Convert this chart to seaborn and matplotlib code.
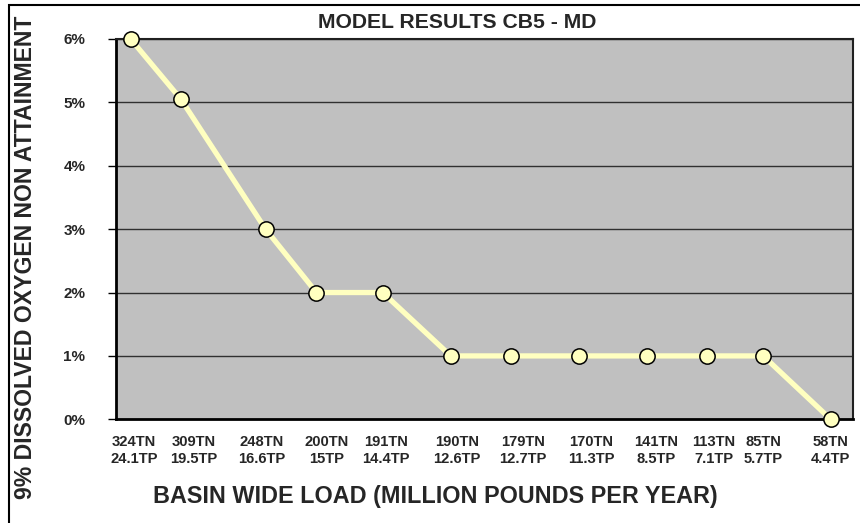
import pandas as pd
import matplotlib.pyplot as plt
import matplotlib.patches as patches
import seaborn as sns

# Load scenarios (total nitrogen / total phosphorus) and non-attainment results
load_labels = ["324TN\n24.1TP", "309TN\n19.5TP", "248TN\n16.6TP", "200TN\n15TP",
               "191TN\n14.4TP", "190TN\n12.6TP", "179TN\n12.7TP", "170TN\n11.3TP",
               "141TN\n8.5TP", "113TN\n7.1TP", "85TN\n5.7TP", "58TN\n4.4TP"]
label_pos = [0.05, 0.99, 2.06, 3.08, 4.01, 5.13, 6.16, 7.24, 8.25, 9.16, 9.94, 10.99]
point_pos = [0.0, 0.79, 2.12, 2.92, 3.96, 5.03, 5.98, 7.04, 8.12, 9.06, 9.94, 11.0]
non_attainment = [6.0, 5.05, 3.0, 2.0, 2.0, 1.0, 1.0, 1.0, 1.0, 1.0, 1.0, 0.0]
y_ticks = [0, 1, 2, 3, 4, 5, 6]

df = pd.DataFrame({"pos": point_pos, "pct": non_attainment})

sns.set_style("white")
plt.rcParams["font.family"] = ["Liberation Sans", "DejaVu Sans"]
plt.rcParams["font.weight"] = "bold"

fig = plt.figure(figsize=(8.6, 5.23), dpi=100)
ax = fig.add_axes([116 / 860, 1 - 419.3 / 523, (853.3 - 116) / 860, (419.3 - 39) / 523])
ax.set_facecolor("#C0C0C0")

sns.lineplot(data=df, x="pos", y="pct", ax=ax, sort=False, color="#FFFFC0", lw=3.8,
             marker="o", markersize=11, markerfacecolor="#FFFFC0",
             markeredgecolor="black", markeredgewidth=1.1, clip_on=False, zorder=5)

ax.set_xlim(-0.23, 11.355)
ax.set_ylim(0, 6)
ax.set_yticks(y_ticks)
ax.set_yticklabels([f"{v}%" for v in y_ticks], fontsize=11, fontweight="bold")
ax.set_xticks(label_pos)
ax.set_xticklabels(load_labels, fontsize=10.6, fontweight="bold", linespacing=1.3)
ax.tick_params(axis="x", length=0, pad=11)
ax.tick_params(axis="y", length=6, width=1, color="black", pad=16, direction="out", left=True)
ax.set_xlabel("")
ax.set_ylabel("")

for v in y_ticks[1:]:
    ax.axhline(v, color="#303030", lw=1, zorder=1)

for side in ["top", "right"]:
    ax.spines[side].set_color("#202020")
    ax.spines[side].set_linewidth(1.5)
for side in ["left", "bottom"]:
    ax.spines[side].set_color("black")
    ax.spines[side].set_linewidth(2)

fig.text(457 / 860, 1 - 22 / 523, "MODEL RESULTS CB5 - MD", ha="center", va="center",
         fontsize=15.2, fontweight="bold")
fig.text(435.5 / 860, 1 - 497 / 523, "BASIN WIDE LOAD (MILLION POUNDS PER YEAR)",
         ha="center", va="center", fontsize=16.8, fontweight="bold")
fig.text(26 / 860, 1 - 257 / 523, "9% DISSOLVED OXYGEN NON ATTAINMENT", ha="center",
         va="center", rotation=90, fontsize=16.6, fontweight="bold")

# frame around the whole chart
fig.patches.append(patches.Rectangle((9 / 860, -0.05), 1.1, 1 - 5 / 523 + 0.05,
                                     transform=fig.transFigure, fill=False,
                                     edgecolor="black", lw=1.5))

fig.savefig("out.png", dpi=100)
